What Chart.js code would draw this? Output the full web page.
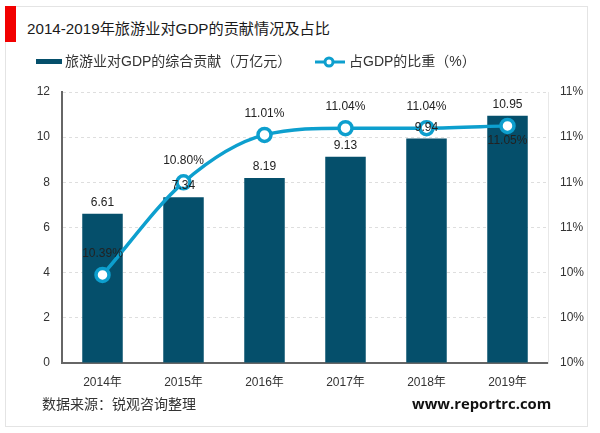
<!DOCTYPE html>
<html>
<head>
<meta charset="utf-8">
<script src="https://cdn.jsdelivr.net/npm/chart.js@4"></script>
<style>
  html, body { margin: 0; padding: 0; background: #fff; }
  body { width: 600px; height: 433px; position: relative; overflow: hidden; font-family: "Liberation Sans", "Noto Sans CJK SC", sans-serif; }
  .outer { position: absolute; left: 5px; top: 6px; width: 583px; height: 421px; border: 1px solid #e4e4e4; box-sizing: border-box; }
  .bar { position: absolute; left: 5px; top: 6px; width: 11px; height: 36px; background: #f20000; }
  .title { position: absolute; left: 27px; top: 16px; font-size: 15.2px; color: #1a1a1a; white-space: nowrap; }
  .source { position: absolute; left: 42px; top: 393px; font-size: 14px; color: #333; white-space: nowrap; }
  .site { position: absolute; left: 412px; top: 393px; font-size: 14.8px; font-weight: bold; color: #111; font-family: "Open Sans", sans-serif; white-space: nowrap; }
  canvas { position: absolute; left: 0; top: 0; }
</style>
</head>
<body>
<div class="outer"></div>
<div class="bar"></div>
<div class="title">2014-2019年旅游业对GDP的贡献情况及占比</div>
<canvas id="mainChart" width="600" height="433"></canvas>
<div class="source">数据来源：锐观咨询整理</div>
<div class="site">www.reportrc.com</div>
<script>
const YEARS = ['2014年','2015年','2016年','2017年','2018年','2019年'];
const CONTRIB = [6.61, 7.34, 8.19, 9.13, 9.94, 10.95];
const SHARE = [10.39, 10.80, 11.01, 11.04, 11.04, 11.05];

// value labels, drawn on top of the bars and the line
const valueLabels = {
  id: 'valueLabels',
  afterDatasetsDraw(chart) {
    const c = chart.ctx;
    c.save();
    c.font = '12px "Liberation Sans"';
    c.fillStyle = '#222';
    c.textAlign = 'center';
    c.textBaseline = 'alphabetic';
    chart.getDatasetMeta(1).data.forEach((el, i) => {
      c.fillText(CONTRIB[i].toFixed(2), el.x, el.y - 8);
    });
    chart.getDatasetMeta(0).data.forEach((el, i) => {
      c.fillText(SHARE[i].toFixed(2) + '%', el.x, i === 5 ? el.y + 18 : el.y - 18);
    });
    c.restore();
  }
};

// legend sits in a fixed row, so it is laid out by hand from the datasets
const legendRow = {
  id: 'legendRow',
  afterDraw(chart) {
    const c = chart.ctx;
    c.save();
    c.font = '14px "Liberation Sans", "Noto Sans CJK SC"';
    c.textBaseline = 'middle';
    c.fillStyle = '#054f6b';
    c.fillRect(36, 59, 26, 5);
    c.fillStyle = '#333';
    c.fillText(chart.data.datasets[1].label, 65, 62);
    c.strokeStyle = '#0d9fce';
    c.lineWidth = 3;
    c.beginPath(); c.moveTo(315, 62); c.lineTo(345, 62); c.stroke();
    c.fillStyle = '#fff';
    c.beginPath(); c.arc(329, 62, 4, 0, Math.PI * 2); c.fill(); c.stroke();
    c.fillStyle = '#333';
    c.fillText(chart.data.datasets[0].label, 349, 62);
    c.restore();
  }
};

new Chart(document.getElementById('mainChart').getContext('2d'), {
  type: 'bar',
  data: {
    labels: YEARS,
    datasets: [
      { type: 'line', label: '占GDP的比重（%）', data: SHARE, yAxisID: 'y1', order: 0,
        borderColor: '#0d9fce', borderWidth: 3.5, cubicInterpolationMode: 'monotone',
        pointRadius: 6.5, pointHoverRadius: 6.5, pointBackgroundColor: '#fff', pointBorderColor: '#0d9fce', pointBorderWidth: 3.5 },
      { type: 'bar', label: '旅游业对GDP的综合贡献（万亿元）', data: CONTRIB, yAxisID: 'y', order: 1,
        backgroundColor: '#054f6b', barPercentage: 0.5, categoryPercentage: 1 }
    ]
  },
  options: {
    responsive: false,
    animation: false,
    layout: { padding: { top: 92 } },
    plugins: { legend: { display: false }, tooltip: { enabled: false } },
    scales: {
      x: {
        afterFit(s) { s.height = 70; },
        grid: { display: false, drawTicks: false },
        border: { color: '#666', width: 2 },
        ticks: { color: '#333', font: { size: 12, family: '"Liberation Sans", "Noto Sans CJK SC"' }, padding: 12 }
      },
      y: {
        position: 'left', min: 0, max: 12,
        afterFit(s) { s.width = 62; },
        grid: { color: '#dedede', drawTicks: false },
        border: { color: '#666', width: 2, dash: [3, 3] },
        ticks: { stepSize: 2, color: '#333', font: { size: 12, family: '"Liberation Sans"' }, padding: 12 }
      },
      y1: {
        position: 'right', min: 10, max: 11.2,
        afterFit(s) { s.width = 52; },
        grid: { display: false, drawTicks: false },
        border: { color: '#e8e8e8', width: 1 },
        ticks: { stepSize: 0.2, color: '#333', font: { size: 12, family: '"Liberation Sans"' }, padding: 12,
          callback: v => Math.round(v) + '%' }
      }
    }
  },
  plugins: [valueLabels, legendRow]
});
</script>
</body>
</html>
